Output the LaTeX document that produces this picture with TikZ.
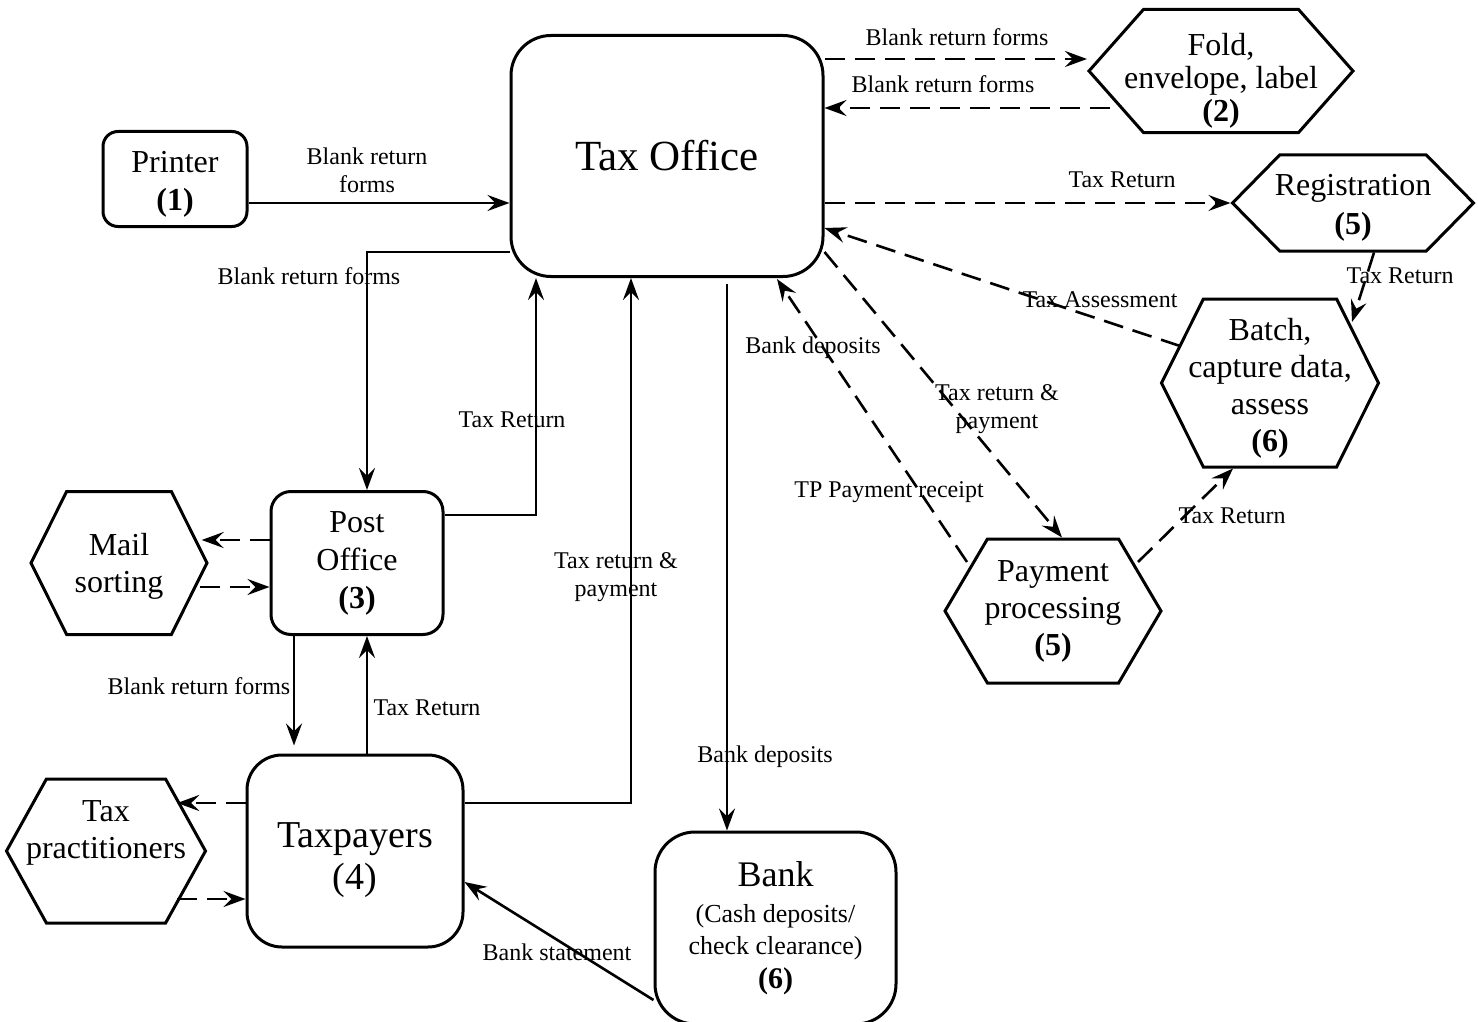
\documentclass[tikz,border=0pt]{standalone}
\usepackage{fontspec}
\setmainfont{Liberation Serif}
\usetikzlibrary{arrows.meta,shapes.symbols,calc}

\begin{document}
\begin{tikzpicture}[x=0.5pt,y=-0.5pt,
    box/.style={draw,line width=1.5pt,rounded corners=#1,align=center,inner sep=0pt,
        font=\fontsize{16}{19}\selectfont},
    box/.default=10pt,
    hexa/.style={draw,line width=1.5pt,signal,signal to=west and east,inner sep=0pt,
        font=\fontsize{16}{18.5}\selectfont},
    flow/.style={line width=1.3pt,-{Stealth[length=11pt,width=8pt,inset=4pt]}},
    dflow/.style={flow,dash pattern=on 10pt off 5pt},
    lbl/.style={font=\fontsize{12}{14}\selectfont,align=center,inner sep=0pt}]
\useasboundingbox (0,0) rectangle (1478,1022);

% boxes
\node[box=20pt,minimum width=156pt,minimum height=120.5pt,
    font=\fontsize{21.5}{24}\selectfont] (tax) at (667,156) {Tax Office};
\node[box=7.5pt,minimum width=72pt,minimum height=47.5pt] (printer) at (175,179)
    {\rule{0pt}{16pt}Printer\\\textbf{(1)}};
\node[box=10pt,minimum width=86pt,minimum height=71.5pt] (post) at (357,563) {Post\\Office\\\textbf{(3)}};
\node[box=17.5pt,minimum width=108pt,minimum height=96pt,
    font=\fontsize{19}{21}\selectfont] (payers) at (355,851) {\rule{0pt}{21.5pt}Taxpayers\\(4)};
\node[box=20pt,minimum width=120.5pt,minimum height=96pt,
    font=\fontsize{13}{16}\selectfont] (bank) at (775.5,928)
    {{\fontsize{18}{18}\selectfont Bank}\\[2pt](Cash deposits/\\check clearance)\\[1pt]{\fontsize{15}{15}\selectfont\textbf{(6)}}};

% hexagons
\node[hexa,minimum width=132pt,minimum height=59pt,signal pointer angle=97] (fold) at (1221,71)
    {\makebox[0pt]{\begin{tabular}{@{}c@{}}\rule{0pt}{23pt}Fold,\\[-2pt]envelope, label\\[-2pt]\textbf{(2)}\end{tabular}}};
\node[hexa,minimum width=120.5pt,minimum height=48pt,signal pointer angle=91] (reg) at (1353,203)
    {\makebox[0pt]{\begin{tabular}{@{}c@{}}\rule{0pt}{18pt}Registration\\[1pt]\textbf{(5)}\end{tabular}}};
\node[hexa,minimum width=108.5pt,minimum height=84pt,signal pointer angle=127] (batch) at (1270,383)
    {\makebox[0pt]{\begin{tabular}{@{}c@{}}\rule{0pt}{19pt}Batch,\\capture data,\\assess\\\textbf{(6)}\end{tabular}}};
\node[hexa,minimum width=108pt,minimum height=72pt,signal pointer angle=119] (pay) at (1053,611)
    {\makebox[0pt]{\begin{tabular}{@{}c@{}}Payment\\processing\\\textbf{(5)}\end{tabular}}};
\node[hexa,minimum width=88pt,minimum height=71.5pt,signal pointer angle=127] (mail) at (119,563)
    {\makebox[0pt]{\begin{tabular}{@{}c@{}}\rule{0pt}{17pt}Mail\\sorting\end{tabular}}};
\node[hexa,minimum width=99.5pt,minimum height=72pt,signal pointer angle=122] (pract) at (106,851)
    {\makebox[0pt]{\begin{tabular}{@{}c@{}}Tax\\practitioners\\~\end{tabular}}};

% solid flows
\draw[flow] ($(printer.east)+(0,24)$) coordinate (p1) -- (p1 -| tax.west);
\draw[flow] ($(tax.west)+(0,96)$) -| ($(post.north)+(10,0)$);
\draw[flow] ($(post.east)+(0,-48)$) -| ($(tax.south)+(-131,0)$);
\draw[flow] ($(payers.east)+(0,-48)$) -| ($(tax.south)+(-36,0)$);
\draw[flow] ($(tax.south)+(60,6)$) coordinate (t1) -- (t1 |- bank.north);
\draw[flow,shorten >=4pt] ($(post.south)+(-63,0)$) coordinate (o1) -- (o1 |- payers.north);
\draw[flow] ($(payers.north)+(12,0)$) coordinate (o2) -- (o2 |- post.south);
\draw[flow] ($(bank.west)+(0,72)$) -- ($(payers.east)+(0,31)$);

% dashed flows
\draw[dflow] ($(tax.east)+(0,-97)$) coordinate (f1) -- (f1 -| fold.west);
\draw[dflow] ($(fold.west)+(23,37)$) coordinate (f2) -- (f2 -| tax.east);
\draw[dflow] ($(tax.east)+(0,47)$) -- (reg.west);
\draw[dflow] ($(reg.south)+(21,0)$) -- ($(batch.center)+(82,-61)$);
\draw[dflow] ($(batch.center)+(-90,-37)$) -- ($(tax.east)+(0,72)$);
\draw[dflow] ($(tax.east)+(0,96)$) -- ($(pay.north)+(9,0)$);
\draw[dflow] ($(pay.center)+(-86,-49)$) -- ($(tax.south)+(110,1)$);
\draw[dflow] ($(pay.center)+(85,-49)$) -- ($(batch.south)+(-37,0)$);
\draw[dflow] ($(post.west)+(0,-23)$) coordinate (m1) -- ($(m1 -| mail.east)+(-7,0)$);
\draw[dflow] ($(mail.east)+(-9,24)$) coordinate (m2) -- (m2 -| post.west);
\draw[dflow] ($(payers.west)+(0,-48)$) -- ($(pract.east)+(-30,-48)$);
\draw[dflow] ($(pract.east)+(-30,48)$) coordinate (q2) -- (q2 -| payers.west);

% labels
\node[lbl] (l1) at (957,37) {Blank return forms};
\node[lbl] (l2) at (943,84) {Blank return forms};
\node[lbl] (l3) at (367,170) {Blank return\\forms};
\node[lbl] (l4) at (1122,180) {Tax Return};
\node[lbl] (l5) at (309,276) {Blank return forms};
\node[lbl] (l6) at (1100,300) {Tax Assessment};
\node[lbl] (l7) at (1400,276) {Tax Return};
\node[lbl] (l8) at (813,348) {Bank deposits};
\node[lbl] (l9) at (997,409) {Tax return \&\\payment};
\node[lbl] (l10) at (512,420) {Tax Return};
\node[lbl] (l11) at (889,492) {TP Payment receipt};
\node[lbl] (l12) at (1232,516) {Tax Return};
\node[lbl] (l13) at (616,577) {Tax return \&\\payment};
\node[lbl] (l14) at (199,686) {Blank return forms};
\node[lbl] (l15) at (427,708) {Tax Return};
\node[lbl] (l16) at (765,757) {Bank deposits};
\node[lbl] (l17) at (557,952) {Bank statement};
\end{tikzpicture}
\end{document}
